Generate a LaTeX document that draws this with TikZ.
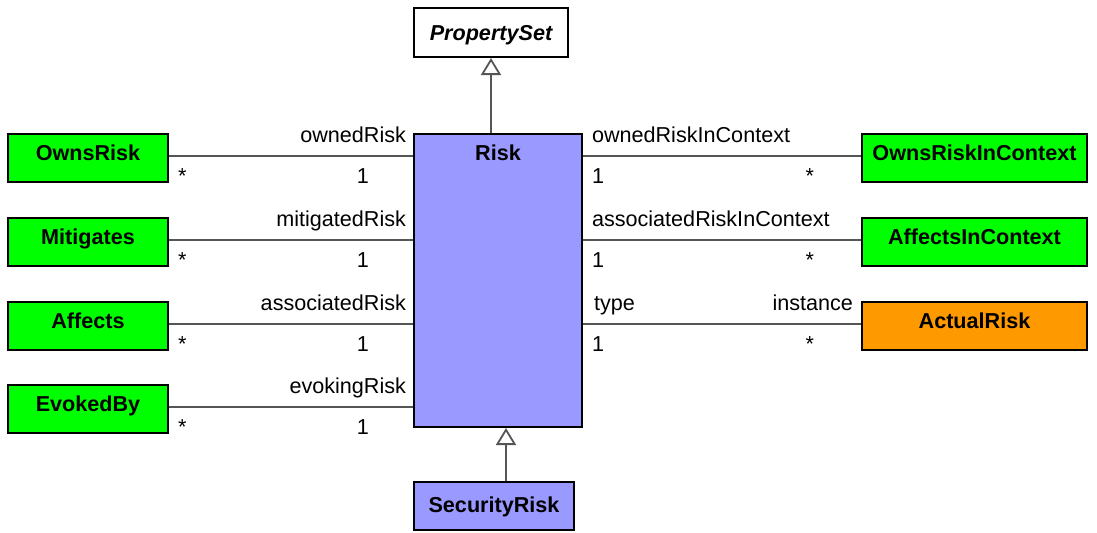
\documentclass[tikz,border=0pt]{standalone}
\usepackage{fontspec}
\setmainfont{Liberation Sans}
\usepackage{tikz}
\usetikzlibrary{arrows.meta,positioning}

\definecolor{clsgreen}{RGB}{0,255,0}
\definecolor{clsblue}{RGB}{153,153,255}
\definecolor{clsorange}{RGB}{255,153,0}
\definecolor{linegray}{RGB}{85,85,85}

\tikzset{
  cls/.style={draw=black, line width=1pt, inner xsep=0pt, inner ysep=0pt,
    text height=13pt, text depth=11pt, font=\bfseries\fontsize{10.8}{13}\selectfont},
  role/.style={inner sep=0pt, font=\fontsize{10.8}{13}\selectfont},
  assoc/.style={draw=linegray, line width=1pt},
  gen/.style={draw=linegray, line width=1pt,
    -{Triangle[open, length=8.5pt, width=10pt, line width=0.9pt]}},
}

\begin{document}
\begin{tikzpicture}[x=0.5pt, y=-0.5pt]
  \useasboundingbox (0,0) rectangle (1097,532);

  % central classes
  \node[cls, fill=white, minimum width=77pt, text height=16pt, text depth=8.5pt,
    font=\bfseries\itshape\fontsize{10.8}{13}\selectfont] (pset) at (491,32.5) {PropertySet};
  \node[cls, fill=clsblue, minimum width=84pt, text depth=133.5pt] (risk) at (498,280.5) {Risk};
  \node[cls, fill=clsblue, minimum width=80pt, text height=15pt, text depth=9pt] (secrisk) at (494,506) {SecurityRisk};

  % generalizations
  \draw[gen] (pset.south |- risk.north) -- (pset.south);
  \draw[gen] ([xshift=6pt]secrisk.north) -- ([xshift=6pt]secrisk.north |- risk.south);

  % left associations
  \foreach \nm/\txt/\role/\y in {owns/OwnsRisk/ownedRisk/158,
      mitig/Mitigates/mitigatedRisk/242,
      affects/Affects/associatedRisk/326,
      evoked/EvokedBy/evokingRisk/409} {
    \node[cls, fill=clsgreen, minimum width=80pt] (\nm) at (88,\y) {\txt};
    \draw[assoc] ([yshift=1pt]\nm.east) -- ([yshift=1pt]\nm.east -| risk.west)
      node[role, pos=1, anchor=base east, xshift=-3pt, yshift=7pt] {\role}
      node[role, pos=1, anchor=base east, xshift=-21.5pt, yshift=-13.5pt] {1}
      node[role, pos=0, anchor=base west, xshift=4pt, yshift=-13.5pt] {*};
  }

  % right associations
  \foreach \nm/\txt/\role/\y in {ownsctx/OwnsRiskInContext/ownedRiskInContext/158,
      affctx/AffectsInContext/associatedRiskInContext/242} {
    \node[cls, fill=clsgreen, minimum width=112.5pt] (\nm) at (974.5,\y) {\txt};
    \draw[assoc] ([yshift=1pt]\nm.west -| risk.east) -- ([yshift=1pt]\nm.west)
      node[role, pos=0, anchor=base west, xshift=4pt, yshift=7pt] {\role}
      node[role, pos=0, anchor=base west, xshift=4pt, yshift=-13.5pt] {1}
      node[role, pos=1, anchor=base east, xshift=-23pt, yshift=-13.5pt] {*};
  }

  \node[cls, fill=clsorange, minimum width=112.5pt] (actual) at (974.5,326) {ActualRisk};
  \draw[assoc] ([yshift=1pt]actual.west -| risk.east) -- ([yshift=1pt]actual.west)
    node[role, pos=0, anchor=base west, xshift=5pt, yshift=7pt] {type}
    node[role, pos=0, anchor=base west, xshift=4pt, yshift=-13.5pt] {1}
    node[role, pos=1, anchor=base east, xshift=-3.5pt, yshift=7pt] {instance}
    node[role, pos=1, anchor=base east, xshift=-23pt, yshift=-13.5pt] {*};

\end{tikzpicture}
\end{document}
